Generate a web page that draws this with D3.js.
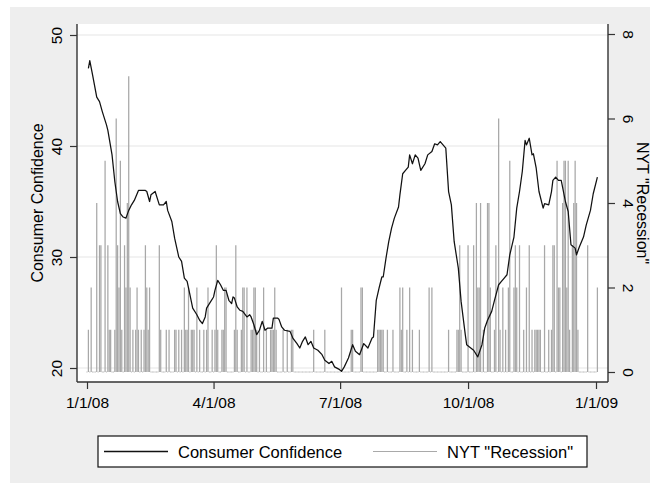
<!DOCTYPE html>
<html><head><meta charset="utf-8">
<script src="https://cdn.jsdelivr.net/npm/d3@7"></script>
<style>
body{margin:0;background:#fff}
text{font-family:"Liberation Sans",Arial,Helvetica,sans-serif;fill:#000}
</style>
</head><body>
<svg id="chart" width="660" height="484"></svg>
<script>
// NYT "Recession" daily counts, index = days since 1/1/08
const nytRecession = [
0,1,0,2,0,0,0,4,0,3,
3,0,0,5,0,3,1,1,0,0,
1,6,3,2,5,1,0,3,2,4,
7,2,0,1,0,1,2,1,0,1,
0,1,3,2,1,2,0,0,0,0,
0,0,3,1,0,0,0,1,0,1,
0,0,0,1,1,0,1,0,1,0,
2,1,1,2,0,1,1,1,0,2,
0,1,0,0,1,0,1,2,0,0,
1,0,1,3,1,0,0,1,1,2,
2,0,0,0,0,0,1,3,1,0,
0,1,2,2,0,2,0,0,1,1,
2,2,1,0,1,0,0,2,0,1,
0,0,1,1,1,2,1,0,0,0,
0,1,0,0,1,0,0,1,1,0,
0,0,0,0,0,0,0,0,0,0,
0,0,0,1,0,0,0,0,0,0,
0,1,0,0,0,0,0,0,0,0,
0,0,0,2,0,0,0,0,0,0,
1,1,0,0,0,0,0,2,2,0,
0,0,0,0,0,0,0,0,0,1,
1,1,1,1,0,0,1,0,0,0,
1,0,0,0,0,2,1,2,0,0,
1,0,2,0,1,0,0,0,0,1,
0,0,0,0,0,0,2,0,2,0,
0,0,0,0,0,0,0,0,0,0,
1,0,0,0,0,0,1,1,3,1,
0,0,0,0,3,0,0,0,3,0,
4,2,2,4,0,1,0,0,4,4,
2,0,0,1,3,0,6,1,0,2,
0,1,0,2,5,0,0,2,3,2,
0,3,0,0,1,0,2,0,3,0,
1,0,1,1,1,1,1,0,0,3,
0,0,1,0,1,3,3,0,5,2,
2,0,4,5,5,2,5,1,0,3,
4,5,4,1,0,0,0,0,0,0,
3,0,0,0,0,0,0,2
];

// Consumer Confidence: days since 1/1/08 and values
const ccDay = [1,2,4,7,9,11,14,15,18,20,22,24,26,28,30,32,34,37,39,42,43,45,46,49,52,55,57,58,61,63,66,68,70,72,74,76,79,81,83,85,86,88,91,92,94,96,98,100,102,104,105,106,108,110,112,115,117,118,120,122,124,126,128,130,133,134,137,138,140,142,146,148,151,153,155,157,159,161,163,166,169,171,174,176,178,181,183,185,188,191,193,196,199,202,205,206,208,210,212,213,215,217,219,221,224,225,227,229,231,232,234,236,238,240,243,245,248,250,252,254,256,258,260,262,264,267,269,272,273,275,278,281,284,286,288,291,293,296,298,300,302,304,307,309,311,313,315,316,318,320,321,323,325,328,329,332,334,335,337,339,341,344,346,348,351,352,354,357,359,362,364,367];
const ccValue = [47.0,47.7,46.4,44.4,44.0,43.1,41.9,41.4,39.2,36.8,35.0,33.9,33.6,33.5,34.2,34.7,35.1,36.0,36.0,36.0,35.9,35.0,35.6,35.9,34.7,34.7,35.0,34.2,33.2,31.7,30.0,29.6,28.1,27.8,26.6,25.4,24.8,24.3,24.0,24.6,25.4,25.8,26.4,27.0,27.9,27.5,27.0,27.0,26.1,25.8,26.4,26.3,25.5,25.2,25.1,24.6,24.8,24.6,23.9,23.0,23.4,24.2,23.4,23.6,23.6,24.5,24.5,24.4,23.7,23.4,23.3,22.7,22.2,21.8,22.4,22.8,22.1,22.4,21.8,21.6,21.2,20.7,20.4,20.6,20.1,19.9,19.7,20.1,20.9,22.1,21.5,21.2,22.2,21.8,22.7,22.8,26.1,27.2,28.2,28.2,29.9,31.4,32.6,33.5,34.5,35.6,37.5,37.8,38.1,39.2,38.4,39.2,38.9,37.8,38.4,39.2,39.5,40.2,40.1,40.4,40.1,39.8,35.9,34.7,31.4,29.0,26.0,23.0,22.1,21.9,21.6,21.0,22.1,23.6,24.3,25.1,26.1,27.5,27.8,28.1,28.4,30.2,31.8,34.4,35.9,37.7,40.5,40.1,40.7,39.2,39.3,38.0,35.9,34.4,34.8,34.7,35.9,36.9,37.2,36.9,36.9,35.0,34.1,31.1,30.8,30.2,30.9,31.8,32.9,34.2,35.7,37.2];

const leftTicks = [20, 30, 40, 50];
const rightTicks = [0, 2, 4, 6, 8];
const xTickDates = ["2008-01-01", "2008-04-01", "2008-07-01", "2008-10-01", "2009-01-01"];
const xTickLabels = ["1/1/08", "4/1/08", "7/1/08", "10/1/08", "1/1/09"];
const seriesNames = ["Consumer Confidence", "NYT \"Recession\""];

const svg = d3.select("#chart");
const P = {l: 77, r: 608, t: 24, b: 382};
const dayToDate = d => new Date(Date.UTC(2008, 0, 1 + d));

const x = d3.scaleUtc().domain([new Date("2008-01-01T00:00:00Z"), new Date("2009-01-01T00:00:00Z")]).range([87, 596]);
const yL = d3.scaleLinear().domain([20, 50]).range([368, 35]);
const yR = d3.scaleLinear().domain([0, 8]).range([372, 34]);

// backgrounds
svg.append("rect").attr("x", 10).attr("y", 7).attr("width", 640).attr("height", 476).attr("fill", "#eeeeee");
svg.append("rect").attr("x", P.l).attr("y", P.t).attr("width", P.r - P.l).attr("height", P.b - P.t).attr("fill", "#ffffff");

// gridlines
svg.append("g").selectAll("line").data(leftTicks).join("line")
  .attr("x1", P.l).attr("x2", P.r)
  .attr("y1", d => yL(d)).attr("y2", d => yL(d))
  .attr("stroke", "#e6e6e6").attr("stroke-width", 1.2);

// NYT bars (one per day)
const nytData = nytRecession.map((v, i) => ({d: dayToDate(i), v}));
const bw = x(dayToDate(1)) - x(dayToDate(0));
const gN = svg.append("g");
gN.selectAll("rect").data(nytData.filter(p => p.v > 0)).join("rect")
  .attr("x", p => x(p.d) - bw * 0.45).attr("width", bw * 0.9)
  .attr("y", p => yR(p.v)).attr("height", p => yR(0) - yR(p.v))
  .attr("fill", "#a8a8a8");
gN.selectAll("line").data(nytData.filter(p => p.v === 0)).join("line")
  .attr("x1", p => x(p.d) - bw * 0.4).attr("x2", p => x(p.d) + bw * 0.4)
  .attr("y1", yR(0)).attr("y2", yR(0))
  .attr("stroke", "#b8b8b8").attr("stroke-width", 1);

// Consumer confidence line
const ccData = ccDay.map((d, i) => ({d: dayToDate(d), v: ccValue[i]}));
svg.append("path").datum(ccData)
  .attr("fill", "none").attr("stroke", "#111").attr("stroke-width", 1.25).attr("stroke-linejoin", "round")
  .attr("d", d3.line().x(p => x(p.d)).y(p => yL(p.v)));

const axisColor = "#333";
// left axis
const gL = svg.append("g").attr("transform", `translate(${P.l},0)`)
  .call(d3.axisLeft(yL).tickValues(leftTicks).tickSize(7).tickPadding(0));
gL.select(".domain").remove();
gL.selectAll(".tick line").attr("stroke", axisColor).attr("stroke-width", 1.2);
gL.selectAll(".tick text").attr("x", 0).attr("dy", null)
  .attr("transform", "translate(-21,0) rotate(-90)")
  .attr("text-anchor", "middle").attr("dominant-baseline", "central")
  .style("font-size", "15.5px").attr("fill", "#000");
svg.append("line").attr("x1", P.l).attr("x2", P.l).attr("y1", P.t).attr("y2", P.b)
  .attr("stroke", axisColor).attr("stroke-width", 1.4);

// right axis
const gR = svg.append("g").attr("transform", `translate(${P.r},0)`)
  .call(d3.axisRight(yR).tickValues(rightTicks).tickSize(7).tickPadding(0));
gR.select(".domain").remove();
gR.selectAll(".tick line").attr("stroke", axisColor).attr("stroke-width", 1.2);
gR.selectAll(".tick text").attr("x", 0).attr("dy", null)
  .attr("transform", "translate(20,0) rotate(90)")
  .attr("text-anchor", "middle").attr("dominant-baseline", "central")
  .style("font-size", "15.5px").attr("fill", "#000");
svg.append("line").attr("x1", P.r).attr("x2", P.r).attr("y1", P.t).attr("y2", P.b)
  .attr("stroke", axisColor).attr("stroke-width", 1.4);

// bottom axis
const gB = svg.append("g").attr("transform", `translate(0,${P.b})`)
  .call(d3.axisBottom(x).tickValues(xTickDates.map(s => new Date(s + "T00:00:00Z")))
    .tickFormat((d, i) => xTickLabels[i]).tickSize(7).tickPadding(8));
gB.select(".domain").remove();
gB.selectAll(".tick line").attr("stroke", axisColor).attr("stroke-width", 1.2);
gB.selectAll(".tick text").style("font-size", "15.5px").attr("fill", "#000");
svg.append("line").attr("x1", P.l).attr("x2", P.r).attr("y1", P.b).attr("y2", P.b)
  .attr("stroke", axisColor).attr("stroke-width", 1.4);

// axis titles
svg.append("text").attr("transform", `translate(37,${(P.t + P.b) / 2}) rotate(-90)`)
  .attr("text-anchor", "middle").attr("dominant-baseline", "central")
  .style("font-size", "16px").text(seriesNames[0]);
svg.append("text").attr("transform", `translate(642,${(P.t + P.b) / 2}) rotate(90)`)
  .attr("text-anchor", "middle").attr("dominant-baseline", "central")
  .style("font-size", "16px").text(seriesNames[1]);

// legend
const lg = svg.append("g");
lg.append("rect").attr("x", 98).attr("y", 436).attr("width", 489).attr("height", 31)
  .attr("fill", "#fff").attr("stroke", "#111").attr("stroke-width", 1.2);
lg.append("line").attr("x1", 104).attr("x2", 168).attr("y1", 451.5).attr("y2", 451.5)
  .attr("stroke", "#111").attr("stroke-width", 1.3);
lg.append("text").attr("x", 178).attr("y", 458).style("font-size", "16.5px").text(seriesNames[0]);
lg.append("line").attr("x1", 373).attr("x2", 437).attr("y1", 451.5).attr("y2", 451.5)
  .attr("stroke", "#a9a9a9").attr("stroke-width", 1);
lg.append("text").attr("x", 447).attr("y", 458).style("font-size", "16.5px").text(seriesNames[1]);
</script>
</body></html>
